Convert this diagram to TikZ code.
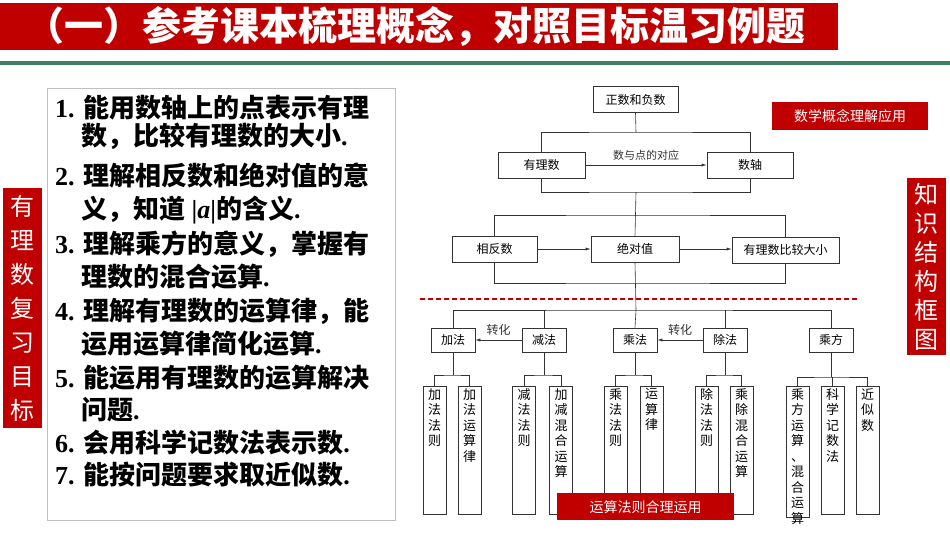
\documentclass[tikz,border=0pt]{standalone}
\usepackage{fontspec}
\setmainfont{Liberation Serif}
\newfontfamily\cjk{Noto Sans CJK SC}
\usetikzlibrary{arrows.meta}
\definecolor{dred}{HTML}{C00000}
\definecolor{gline}{HTML}{3E8060}
\newcommand{\vtxt}[2][124pt]{\parbox[t][#1][t]{13pt}{\centering #2}}
\begin{document}
\begin{tikzpicture}[x=1pt,y=-1pt,
  bx/.style={draw=black!80,line width=0.6pt,minimum height=26pt,inner sep=1pt,font=\cjk\fontsize{12}{12}\selectfont},
  vb/.style={draw=black!80,line width=0.6pt,anchor=north,minimum width=23pt,inner sep=2pt,font=\cjk\fontsize{13}{15.5}\selectfont},
  ln/.style={line width=0.6pt,black!80},
  ar/.style={ln,-{Latex[length=5pt,width=3pt]}},
  lt/.style={anchor=west,font=\bfseries\fontsize{26}{26}\selectfont,inner sep=0pt},
  redlab/.style={fill=dred,text=white,inner sep=0pt,font=\cjk\fontsize{14}{14}\selectfont}]
\useasboundingbox (0,0) rectangle (950,535);
\fill[white] (0,0) rectangle (950,535);
% title
\node[fill=dred,minimum width=838pt,minimum height=47pt,anchor=north west,inner sep=0pt] (tb) at (0,3) {};
\node[text=white,font=\cjk\bfseries\fontsize{39}{39}\selectfont,anchor=west] (tt) at (22,27) {（一）参考课本梳理概念，对照目标温习例题};
\draw[gline,line width=4pt] (0,63) -- (950,63);
% left box
\node[draw=black!25,line width=0.8pt,minimum width=348pt,minimum height=432pt,anchor=north west,inner sep=0pt] (lb) at (47,88) {};
\node[lt] (l1) at (55,108) {1. {\cjk 能用数轴上的点表示有理}};
\node[lt] (l2) at (81,136) {\cjk 数，比较有理数的大小{\rmfamily .}};
\node[lt] (l3) at (55,176) {2. {\cjk 理解相反数和绝对值的意}};
\node[lt] (l4) at (81,210) {{\cjk 义，知道} |{\itshape a}|{\cjk 的含义}.};
\node[lt] (l5) at (55,244) {3. {\cjk 理解乘方的意义，掌握有}};
\node[lt] (l6) at (81,277) {{\cjk 理数的混合运算}.};
\node[lt] (l7) at (55,311) {4. {\cjk 理解有理数的运算律，能}};
\node[lt] (l8) at (81,344) {{\cjk 运用运算律简化运算}.};
\node[lt] (l9) at (55,378) {5. {\cjk 能运用有理数的运算解决}};
\node[lt] (l10) at (81,410) {{\cjk 问题}.};
\node[lt] (l11) at (55,443) {6. {\cjk 会用科学记数法表示数}.};
\node[lt] (l12) at (55,475) {7. {\cjk 能按问题要求取近似数}.};
% side labels
\node[fill=dred,text=white,minimum width=39pt,minimum height=240pt,anchor=north west,inner sep=0pt,text width=26pt,align=center,font=\cjk\fontsize{24}{34}\selectfont] (sl) at (3,188) {有\\理\\数\\复\\习\\目\\标};
\node[fill=dred,text=white,minimum width=39pt,minimum height=177pt,anchor=north west,inner sep=0pt,text width=26pt,align=center,font=\cjk\fontsize{24}{29}\selectfont] (sr) at (907,178) {知\\识\\结\\构\\框\\图};
% flowchart
\node[bx,minimum width=85pt] (zf) at (635.5,99.5) {正数和负数};
\node[bx,minimum width=87pt] (yl) at (541.5,165) {有理数};
\node[bx,minimum width=86pt] (sz) at (750,165) {数轴};
\draw[ar] (yl) -- node[above,font=\cjk\fontsize{11}{11}\selectfont,yshift=1pt] (dl) {数与点的对应} (sz);
\coordinate (c1) at (636,132); \coordinate (c2) at (636,192);
\draw[ln] (zf.south) -- (c1);
\draw[ln] (yl.north) |- (c1) -| (sz.north);
\draw[ln] (yl.south) |- (c2) -| (sz.south);
\node[bx,minimum width=85pt] (xf) at (494.5,249) {相反数};
\node[bx,minimum width=88pt] (jd) at (635,249) {绝对值};
\node[bx,minimum width=107pt] (bj) at (785.5,250) {有理数比较大小};
\draw[ar] (xf) -- (jd); \draw[ar] (jd.east) -- (bj.west|-jd.east);
\coordinate (c3) at (636,215); \coordinate (c4) at (636,283); \coordinate (c5) at (636,310);
\draw[ln] (c2) -- (jd.north);
\draw[ln] (xf.north) |- (c3) -| (bj.north);
\draw[ln] (xf.south) |- (c4) -| (bj.south);
\draw[ln] (jd.south) -- (c5);
\draw[dred,line width=1.2pt,dash pattern=on 5pt off 3pt] (420,299) -- (858,299);
\tikzset{bx2/.style={bx,minimum width=44pt,minimum height=24pt}}
\node[bx2] (jf) at (453,340) {加法};
\node[bx2] (jn) at (544,340) {减法};
\node[bx2] (cf) at (635,340) {乘法};
\node[bx2] (cu) at (725,340) {除法};
\node[bx2] (cp) at (831,340) {乘方};
\draw[ln] (jf.north) |- (c5) -| (cp.north);
\draw[ln] (jn.north) -- (jn.north|-c5);
\draw[ln] (cf.north) -- (c5);
\draw[ln] (cu.north) -- (cu.north|-c5);
\draw[ar] (jn) -- node[above,font=\cjk\fontsize{12}{12}\selectfont,yshift=1pt] (zh1) {转化} (jf);
\draw[ar] (cu) -- node[above,font=\cjk\fontsize{12}{12}\selectfont,yshift=1pt] (zh2) {转化} (cf);
% children
\node[vb] (a1) at (434.5,386) {\vtxt{加\\法\\法\\则}};
\node[vb] (a2) at (469.5,386) {\vtxt{加\\法\\运\\算\\律}};
\node[vb] (b1) at (524,386) {\vtxt{减\\法\\法\\则}};
\node[vb] (b2) at (561,386) {\vtxt{加\\减\\混\\合\\运\\算}};
\node[vb] (d1) at (615.5,386) {\vtxt{乘\\法\\法\\则}};
\node[vb] (d2) at (651.5,386) {\vtxt{运\\算\\律}};
\node[vb] (e1) at (706.5,386) {\vtxt{除\\法\\法\\则}};
\node[vb] (e2) at (741.5,386) {\vtxt{乘\\除\\混\\合\\运\\算}};
\node[vb] (f1) at (797.5,386) {\vtxt[127pt]{乘\\方\\运\\算\\、\\混\\合\\运\\算}};
\node[vb] (f2) at (832.5,386) {\vtxt{科\\学\\记\\数\\法}};
\node[vb] (f3) at (867.5,386) {\vtxt{近\\似\\数}};
\foreach \p/\l/\r/\y in {jf/a1/a2/375,jn/b1/b2/375,cf/d1/d2/375,cu/e1/e2/375,cp/f1/f3/377}{
  \draw[ln] (\p.south) -- (\p.south|-0,\y);
  \draw[ln] (\l.north) |- (\p.south|-0,\y) -| (\r.north);
}
\draw[ln] (f2.north) -- (f2.north|-0,377);
% red labels
\node[redlab,minimum width=156pt,minimum height=28pt,anchor=north west] (rl1) at (772,102) {数学概念理解应用};
\node[redlab,minimum width=177pt,minimum height=27pt,anchor=north west] (rl2) at (557,493) {运算法则合理运用};
\end{tikzpicture}
\end{document}
